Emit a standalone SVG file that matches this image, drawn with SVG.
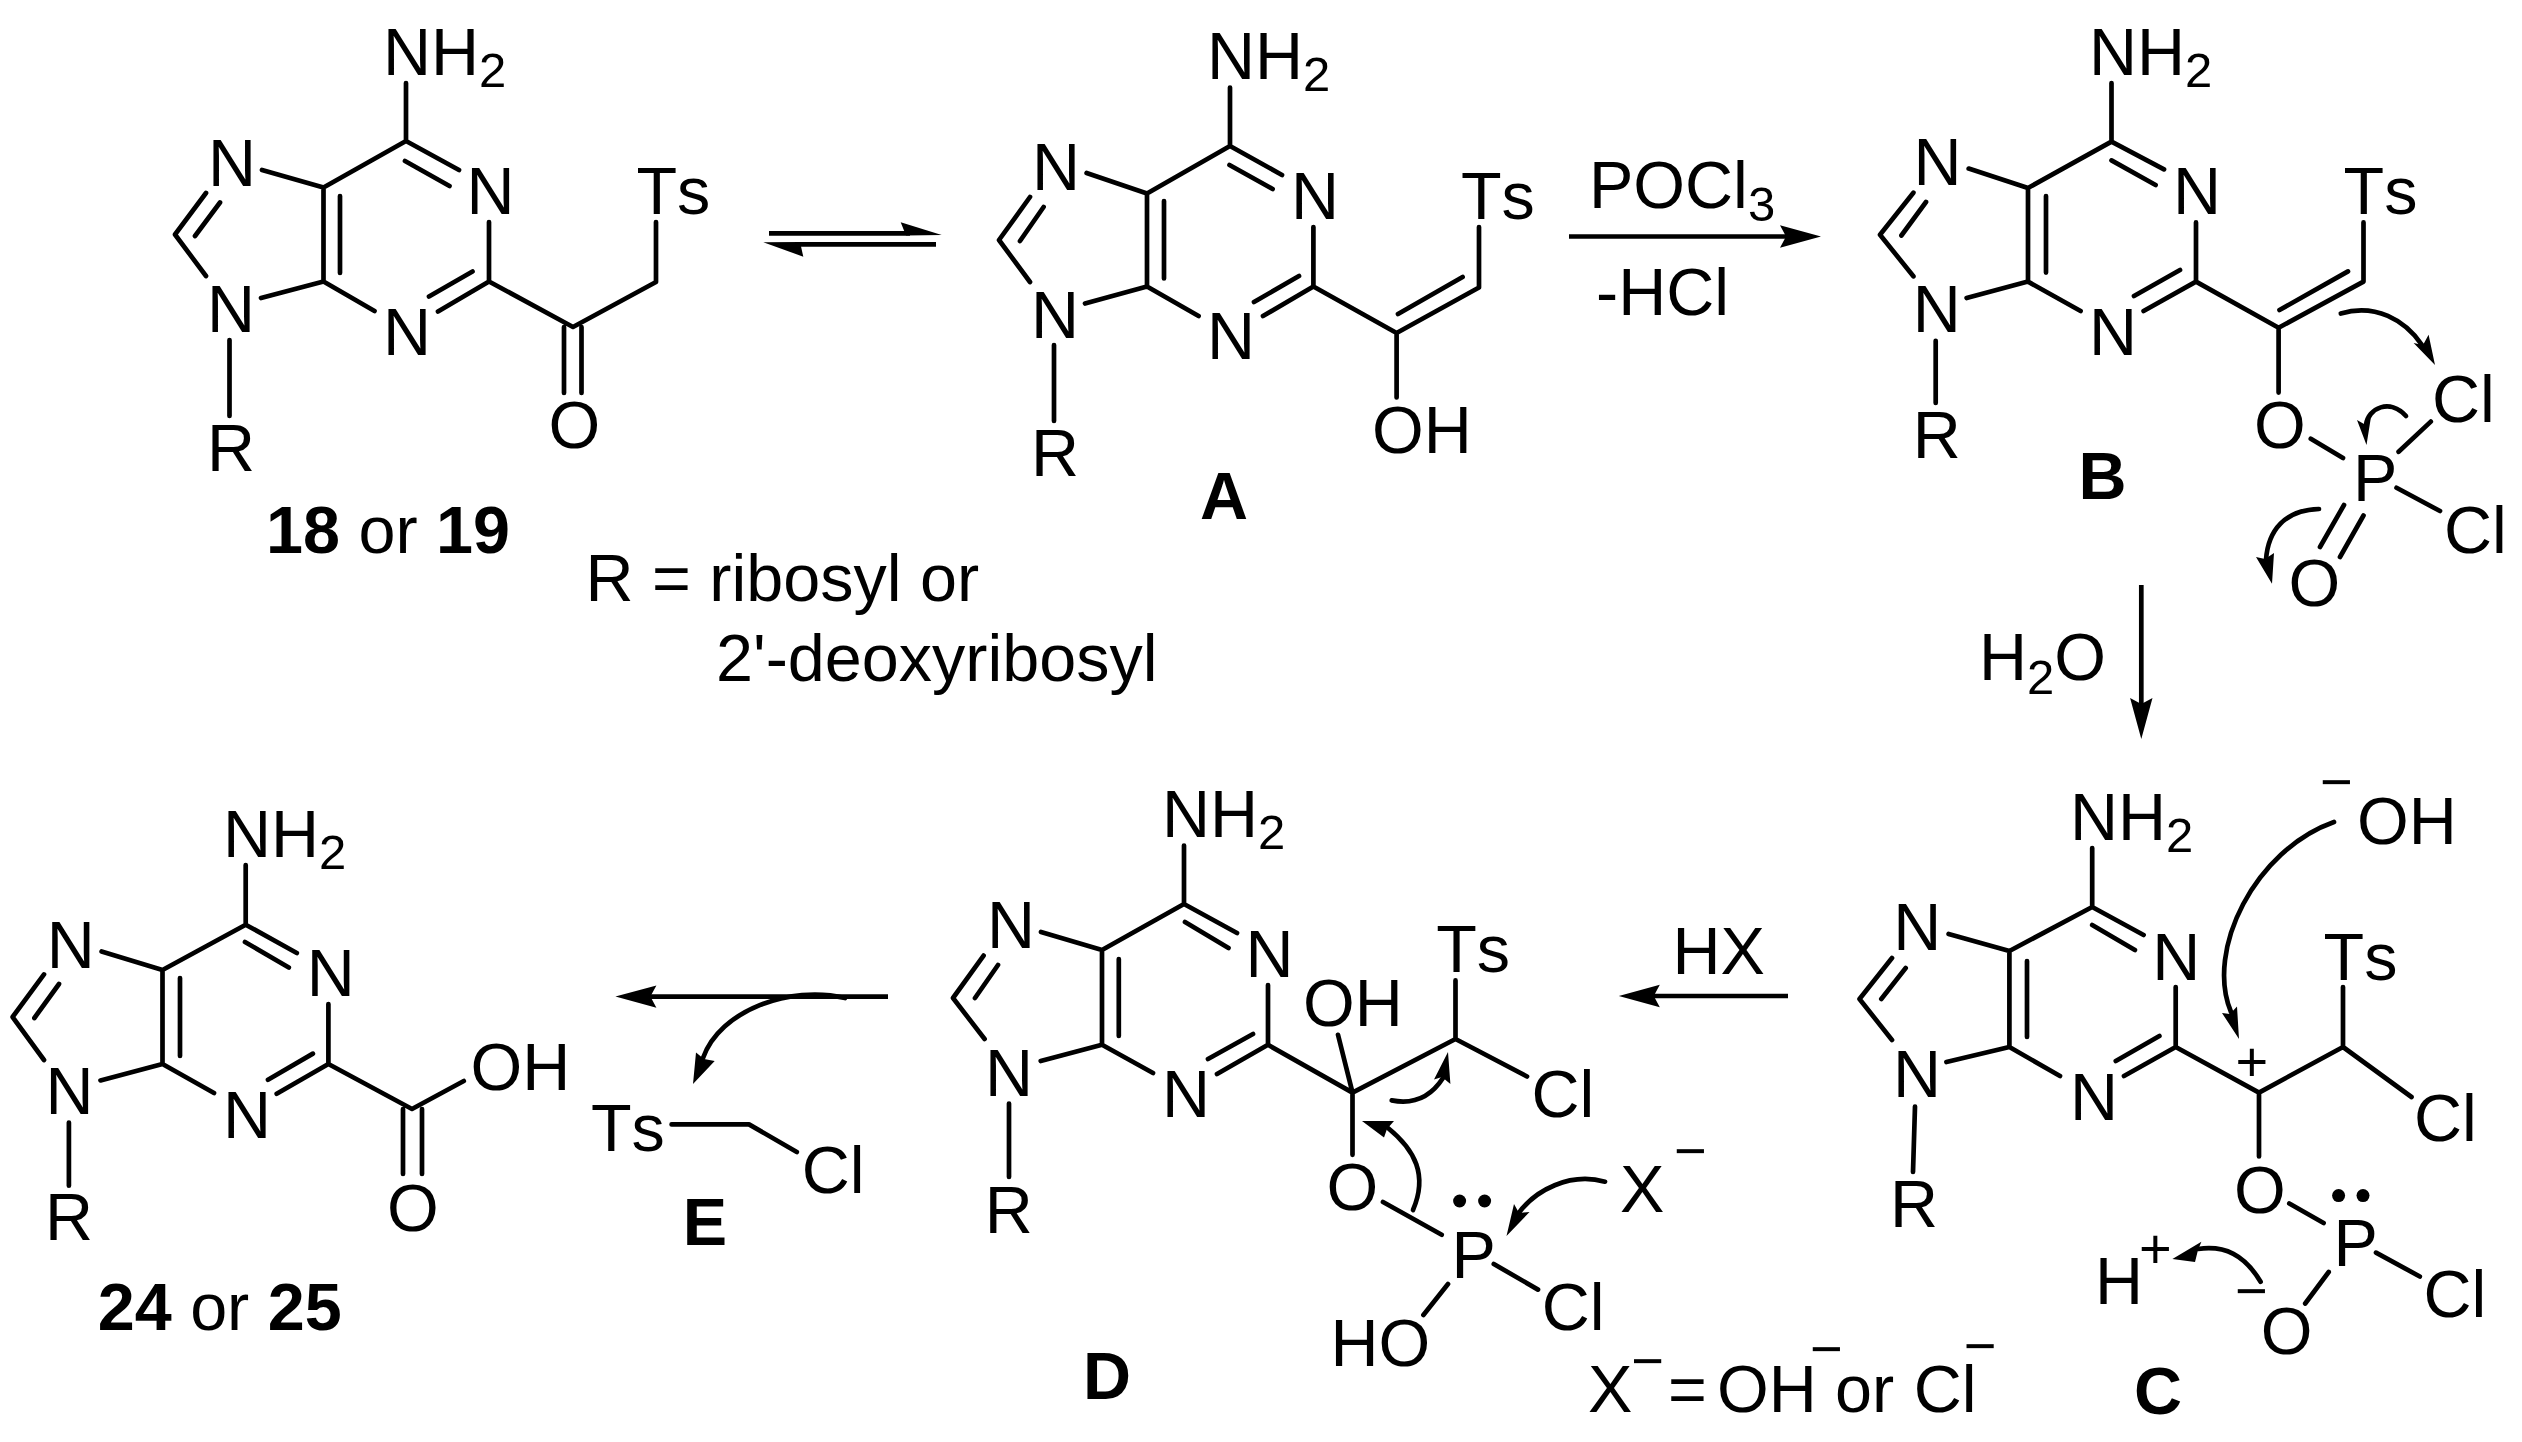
<svg xmlns="http://www.w3.org/2000/svg" width="2522" height="1442" viewBox="0 0 2522 1442">
<style>
text{font-family:"Liberation Sans",Arial,sans-serif;font-size:66.5px;font-kerning:none;fill:#000}
.sub{font-size:49px}
.lb{font-weight:bold}
.pm{font-size:56px}
.b{fill:none;stroke:#000;stroke-width:4.7;stroke-linecap:round;stroke-linejoin:round}
.a{fill:none;stroke:#000;stroke-width:4.7}
.c{fill:none;stroke:#000;stroke-width:4.7;stroke-linecap:round}
.h{fill:#000;stroke:none}
</style>
<defs>
<marker id="ah" markerUnits="userSpaceOnUse" markerWidth="60" markerHeight="40" viewBox="-50 -20 60 40" refX="-25" refY="0" orient="auto"><path class="h" d="M0,0L-41,-11.2L-35,0L-41,11.2Z"/></marker>
</defs>
<rect width="2522" height="1442" fill="#fff"/>

<g id="compound-18-19">
<path class="b" d="M406,83V141L323.500,187.500V281.500L374.500,311M406,141L459,170M405,161L449.500,186M489,222V281.500L438,311.500M472.500,271.500L429,296.500M340,196V273M323.500,187.500L262,170M206,193L175,234.500L206,276M220,202.500L195,236M261,298L323.500,281.500M229.500,340V416M489,281.500L573,327L656,282V222M564,327V393M581.500,327V393"/>
<text x="383" y="75">NH<tspan class="sub" dy="12">2</tspan></text>
<text x="466.500" y="214">N</text><text x="383" y="355">N</text><text x="208" y="186">N</text><text x="207" y="332">N</text><text x="207" y="471">R</text><text x="636.500" y="214">Ts</text><text x="548.500" y="448">O</text>
<text x="266" y="553"><tspan class="lb">18</tspan> or <tspan class="lb">19</tspan></text>
</g>

<g id="compound-A">
<path class="b" d="M1230,87.500V146L1147,193.500V286.500L1198.600,316M1230,146L1282,175M1229.500,165L1272.600,189M1164,201V278.500M1313.400,227V286.500L1263,316M1299,276L1254,302M1147,193.500L1086.600,173M1030,197L999,240L1030,282M1043.600,207L1020,241M1085,303.500L1147,286.500M1054,345V421M1313.400,286.500L1396.600,333L1479,287.500V227M1398,314L1462.600,277M1396.600,333V397.500"/>
<text x="1207" y="79">NH<tspan class="sub" dy="12">2</tspan></text>
<text x="1291" y="219">N</text><text x="1207" y="359">N</text><text x="1032" y="190">N</text><text x="1031" y="337.500">N</text><text x="1031" y="476">R</text><text x="1461" y="219">Ts</text><text x="1372" y="453">OH</text>
<text class="lb" x="1200" y="518.600">A</text>
</g>

<g id="compound-B">
<path class="b" d="M2111.500,83V141.600L2028,188V281.600L2080.600,311M2111.500,141.600L2164,169.400M2111.500,160.400L2155.600,185M2046,196V272.600M2196,222.400V281.600L2143.600,311M2180,270L2134,296M2028,188L1968.700,168.600M1913.400,192.700L1880,234.700L1913.400,276.300M1926,202L1901.400,235.500M1966.600,298L2028,281.600M1935.700,340.800V403M2196,281.600L2278.600,327.800L2363.500,281.600V222.400M2279.500,310L2348,271.400M2278.600,327.800V392.600M2310.800,438.800L2343,458M2398.600,451.800L2430.800,421.600M2396.500,487.800L2440,511M2344,505L2320,547M2363.500,515.500L2340,557"/>
<text x="2089" y="74.700">NH<tspan class="sub" dy="12">2</tspan></text>
<text x="2173" y="214.300">N</text><text x="2089" y="355">N</text><text x="1913.600" y="185">N</text><text x="1912.700" y="332">N</text><text x="1912.700" y="458">R</text><text x="2343.600" y="214.300">Ts</text><text x="2254" y="448">O</text><text x="2353" y="501">P</text><text x="2432" y="421.600">Cl</text><text x="2444" y="553">Cl</text><text x="2288.500" y="606">O</text>
<text class="lb" x="2078.600" y="499">B</text>
</g>

<g id="compound-C">
<path class="b" d="M2092.200,848V907L2009.400,951V1047L2060,1076M2092.200,907L2143.600,935M2092.200,925L2134.900,950M2027,961V1037M2175.700,987V1047L2124,1076M2159.400,1036L2115.800,1061M2009.400,951L1948.600,934M1892,958L1859.500,999L1892,1040M1905.700,968L1881.300,999M1946.400,1062L2009.400,1047M1915,1106.500L1913,1172M2175.700,1047L2259,1092.600L2343,1047V987M2343,1047L2411.500,1097M2259,1092.600V1156.500M2289.300,1203.500L2323.600,1223M2376,1252.600L2419.800,1276.500M2328.700,1272L2305.200,1303.500"/>
<circle class="h" cx="2338.600" cy="1195.600" r="6.500"/><circle class="h" cx="2363" cy="1195.600" r="6.500"/>
<text x="2070" y="839.600">NH<tspan class="sub" dy="12">2</tspan></text>
<text x="2152.300" y="979.600">N</text><text x="2070" y="1119.600">N</text><text x="1893.300" y="950">N</text><text x="1893" y="1097">N</text><text x="1890" y="1227">R</text><text x="2323.600" y="979.600">Ts</text><text x="2414" y="1141">Cl</text><text x="2234" y="1213">O</text><text x="2333.600" y="1265.600">P</text><text x="2423.500" y="1317">Cl</text><text x="2260.700" y="1353.500">O</text>
<text class="pm" x="2235.600" y="1081">+</text><text class="pm" x="2235" y="1310">−</text>
<text class="lb" x="2134" y="1414">C</text>
</g>

<g id="reagent-H-plus"><text x="2095" y="1304">H</text><text class="pm" x="2139" y="1268">+</text></g>
<g id="reagent-OH"><text class="pm" x="2320" y="800.600">−</text><text x="2357" y="843.500">OH</text></g>

<g id="compound-D">
<path class="b" d="M1184,845.600V904L1102,950V1044.800L1153,1073M1184,904L1237,933M1185,922L1228.500,948M1118.800,959V1036M1268,985V1044.800L1217,1074M1253,1034L1208,1059M1102,950L1041,932M983.600,955.600L953,998L984.600,1039M998,965L975,998M1040.700,1061L1102,1044.800M1009,1103.500V1177M1268,1044.800L1352.500,1092.600L1455.500,1039V980.400M1455.500,1039L1527,1076.500M1338,1034.800L1352.500,1092.600V1154.800M1383,1202L1441.700,1234.800M1493.800,1264L1538,1289.600M1448,1284L1423.400,1315"/>
<circle class="h" cx="1459.600" cy="1201" r="6.500"/><circle class="h" cx="1484.600" cy="1201" r="6.500"/>
<text x="1162" y="837">NH<tspan class="sub" dy="12">2</tspan></text>
<text x="1245.400" y="976.500">N</text><text x="1162" y="1116.500">N</text><text x="987" y="948">N</text><text x="985" y="1095.600">N</text><text x="984.700" y="1233">R</text><text x="1436.200" y="972">Ts</text><text x="1531.600" y="1116.500">Cl</text><text x="1303" y="1026">OH</text><text x="1326.500" y="1210">O</text><text x="1451.500" y="1278">P</text><text x="1541.800" y="1329.600">Cl</text><text x="1330.600" y="1365.600">HO</text>
<text class="lb" x="1083" y="1399">D</text>
</g>

<g id="reagent-X"><text x="1620" y="1212">X</text><text class="pm" x="1674" y="1170">−</text></g>

<g id="compound-E">
<path class="b" d="M671.600,1124.400H749L796.800,1152"/>
<text x="591" y="1150.500">Ts</text><text x="801.800" y="1193">Cl</text>
<text class="lb" x="682.700" y="1245">E</text>
</g>

<g id="compound-24-25">
<path class="b" d="M245.700,865V924.700L162.500,970V1064L214,1093M245.700,924.700L296.800,953M245,942L288.800,967.500M180,978V1056M328.400,1004V1064L276.700,1093.800M312.900,1053.600L268,1079.700M162.500,970L101.600,951.500M44,974.400L12.600,1017L44,1060M59,984L34.400,1018M100.500,1080.400L162.500,1064M68.900,1122.500V1185.700M328.400,1064L412,1109L463.800,1081M403,1109V1174M422,1109V1174"/>
<text x="223" y="856.500">NH<tspan class="sub" dy="12">2</tspan></text>
<text x="306.700" y="996">N</text><text x="223" y="1137.800">N</text><text x="46.700" y="967.500">N</text><text x="45.500" y="1114">N</text><text x="45" y="1240.400">R</text><text x="470.600" y="1090">OH</text><text x="387" y="1230.800">O</text>
<text x="97.700" y="1330"><tspan class="lb">24</tspan> or <tspan class="lb">25</tspan></text>
</g>

<g id="notes">
<text x="585.500" y="601">R = ribosyl or</text>
<text x="716" y="681">2'-deoxyribosyl</text>
<text x="1589" y="208">POCl<tspan class="sub" dy="13">3</tspan></text>
<text x="1596" y="315">-HCl</text>
<text x="1979" y="680">H<tspan class="sub" dy="14">2</tspan><tspan dy="-14">O</tspan></text>
<text x="1672.500" y="974">HX</text>
<text x="1588" y="1411.700">X</text><text class="pm" x="1631.300" y="1380.300">−</text><text x="1668" y="1412">=</text><text x="1717" y="1411.700">OH</text><text class="pm" x="1810" y="1368">−</text><text x="1835" y="1411.700">or</text><text x="1913.700" y="1411.700">Cl</text><text class="pm" x="1963.700" y="1365.300">−</text>
</g>

<g id="connectors">
<path class="a" d="M769,233.300H910"/><polygon class="h" points="941.700,235 900.700,222.300 906,235.600"/>
<path class="a" d="M936,244.300H795"/><polygon class="h" points="763.300,242.300 803.300,256.700 800,242"/>
<path class="a" marker-end="url(#ah)" d="M1569,236.500H1796"/>
<path class="a" marker-end="url(#ah)" d="M2141.300,585V714"/>
<path class="a" marker-end="url(#ah)" d="M1788,996H1643.800"/>
<path class="a" marker-end="url(#ah)" d="M888,996.600H640.400"/>

<path class="c" d="M2340.800,313.500C2375,303 2405,320 2422,345"/><polygon class="h" points="2435,365 2428.600,334.700 2423,345 2413.600,343"/>
<path class="c" d="M2406,416C2390,398 2368,408 2366,425"/><polygon class="h" points="2366.500,445 2370.800,418 2364,424 2357,420"/>
<path class="c" d="M2319,509C2285,510 2268,530 2266,560"/><polygon class="h" points="2272,583.700 2274,553 2265,559 2256,557"/>
<path class="c" d="M2334,822C2255,850 2205,950 2231,1012"/><polygon class="h" points="2239,1039 2237,1006.500 2230,1014 2222,1013"/>
<path class="c" d="M2260.600,1281.700C2244.500,1255 2225,1245 2198,1249"/><polygon class="h" points="2172.400,1259 2201.400,1241.700 2198,1250 2195,1262"/>
<path class="c" d="M1605,1181.700C1570,1172 1535,1190 1518,1214"/><polygon class="h" points="1506.500,1236 1514,1204 1519,1213 1529.500,1212"/>
<path class="c" d="M1413,1210C1428,1175 1415,1150 1388,1128"/><polygon class="h" points="1362,1121 1394,1121 1387,1129 1384,1137.400"/>
<path class="c" d="M1391.700,1100.400C1415,1105 1432,1095 1443,1078"/><polygon class="h" points="1448,1052 1450.400,1084 1442,1077 1434,1079.600"/>
<path class="c" d="M845,998C790,985 720,1010 703,1058"/><polygon class="h" points="693,1084 714.700,1061 704,1059 696,1052.500"/>
</g>
</svg>
